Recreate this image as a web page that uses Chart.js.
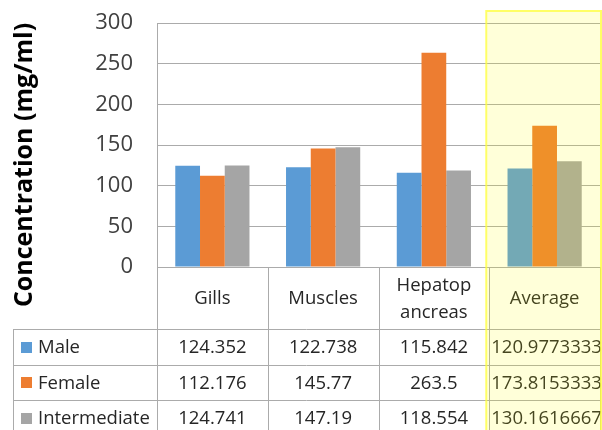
<!DOCTYPE html>
<html>
<head>
<meta charset="utf-8">
<script src="https://cdn.jsdelivr.net/npm/chart.js@4.4.1/dist/chart.umd.min.js"></script>
<style>
  html, body { margin: 0; padding: 0; background: #ffffff; }
  canvas { display: block; }
</style>
</head>
<body>
<canvas id="grafico" width="602" height="430"></canvas>
<script>
const categorias = ["Gills", "Muscles", "Hepatopancreas", "Average"];
const etiquetasTabla = [["Gills"], ["Muscles"], ["Hepatop", "ancreas"], ["Average"]];
const series = ["Male", "Female", "Intermediate"];
const male = [124.352, 122.738, 115.842, 120.9773333];
const female = [112.176, 145.77, 263.5, 173.8153333];
const intermediate = [124.741, 147.19, 118.554, 130.1616667];
const yTicks = [0, 50, 100, 150, 200, 250, 300];

const colores = ["#5B9BD5", "#ED7D31", "#A5A5A5"];
const valores = [male, female, intermediate];
const lineaGris = "#ABABAB";
const textoColor = "#262626";
const fuente = "'Open Sans', 'Noto Sans', sans-serif";

// Tabla de datos debajo del gráfico (estilo Excel)
const tablaDatos = {
  id: "tablaDatos",
  afterDraw(chart) {
    const { ctx, chartArea, scales } = chart;
    const x = scales.x;
    const n = categorias.length;
    const anchoCol = (chartArea.right - chartArea.left) / n;
    const top = chartArea.bottom;
    const altoCabecera = 62;
    const altoFila = 35.5;
    const izquierda = 13;
    const fondo = chart.height + 10;

    ctx.save();
    ctx.strokeStyle = lineaGris;
    ctx.lineWidth = 1;

    // líneas horizontales
    ctx.beginPath();
    for (let i = 0; i <= series.length; i++) {
      const y = Math.round(top + altoCabecera + i * altoFila) + 0.5;
      ctx.moveTo(izquierda, y);
      ctx.lineTo(chartArea.right, y);
    }
    // líneas verticales
    for (let i = 0; i <= n; i++) {
      const xx = Math.round(chartArea.left + i * anchoCol) + 0.5;
      ctx.moveTo(xx, top);
      ctx.lineTo(xx, fondo);
    }
    const xi = izquierda + 0.5;
    ctx.moveTo(xi, top + altoCabecera);
    ctx.lineTo(xi, fondo);
    ctx.stroke();

    // cabecera de categorías
    ctx.fillStyle = textoColor;
    ctx.font = "18.5px " + fuente;
    ctx.textAlign = "center";
    ctx.textBaseline = "middle";
    etiquetasTabla.forEach((lineas, i) => {
      const cx = x.getPixelForValue(i);
      const cy = top + altoCabecera / 2 + 1;
      const alto = 27;
      lineas.forEach((t, j) => {
        ctx.fillText(t, cx, cy + (j - (lineas.length - 1) / 2) * alto);
      });
    });

    // filas con clave de color
    series.forEach((nombre, s) => {
      const cy = top + altoCabecera + s * altoFila + altoFila / 2 + 1;
      ctx.fillStyle = colores[s];
      ctx.fillRect(21, Math.round(cy - 6), 11, 11);
      ctx.fillStyle = textoColor;
      ctx.textAlign = "left";
      ctx.fillText(nombre, 38, cy);
      valores[s].forEach((v, i) => {
        const texto = String(v);
        const ancho = ctx.measureText(texto).width;
        const cx = x.getPixelForValue(i);
        if (ancho > anchoCol - 4) {
          ctx.textAlign = "left";
          ctx.fillText(texto, chartArea.left + i * anchoCol + 2, cy);
        } else {
          ctx.textAlign = "center";
          ctx.fillText(texto, cx, cy);
        }
      });
    });

    // título del eje Y
    ctx.save();
    ctx.translate(25, 165);
    ctx.rotate(-Math.PI / 2);
    ctx.font = "bold 25px " + fuente;
    ctx.textAlign = "center";
    ctx.fillStyle = "#000000";
    ctx.fillText("Concentration (mg/ml)", 0, 0);
    ctx.restore();

    // resaltado amarillo de la columna Average
    const xa = chartArea.left + (n - 1) * anchoCol - 3;
    ctx.fillStyle = "rgba(255, 255, 0, 0.15)";
    ctx.fillRect(xa, 10, chart.width - xa, chart.height);
    ctx.strokeStyle = "rgba(255, 255, 60, 0.75)";
    ctx.lineWidth = 2;
    ctx.strokeRect(xa, 11, chart.width - xa - 1, chart.height + 10);
    ctx.restore();
  },
};

const fondoBlanco = {
  id: "fondoBlanco",
  beforeDraw(chart) {
    const ctx = chart.ctx;
    ctx.save();
    ctx.fillStyle = "#ffffff";
    ctx.fillRect(0, 0, chart.width, chart.height);
    ctx.restore();
  },
};

const ctx = document.getElementById("grafico").getContext("2d");
new Chart(ctx, {
  type: "bar",
  data: {
    labels: categorias,
    datasets: series.map((nombre, s) => ({
      label: nombre,
      data: valores[s],
      backgroundColor: colores[s],
      borderWidth: 0,
      categoryPercentage: 0.67,
      barPercentage: 1.0,
    })),
  },
  options: {
    responsive: false,
    animation: false,
    layout: {
      padding: { left: 0, right: 2, top: 23, bottom: 163 },
    },
    plugins: {
      legend: { display: false },
      tooltip: { enabled: false },
    },
    scales: {
      x: {
        afterFit(scale) {
          scale.height = 0;
          scale.paddingLeft = 0;
          scale.paddingRight = 0;
        },
        ticks: { display: false },
        grid: { display: false, drawTicks: false },
        border: { display: true, color: lineaGris },
      },
      y: {
        min: 0,
        max: 300,
        afterFit(scale) {
          scale.width = 157;
          scale.paddingTop = 0;
          scale.paddingBottom = 0;
        },
        afterBuildTicks(scale) {
          scale.ticks = yTicks.map((v) => ({ value: v }));
        },
        ticks: {
          padding: 24,
          color: "#404040",
          font: { family: fuente, size: 22 },
        },
        grid: { color: lineaGris, drawTicks: false },
        border: { display: true, color: lineaGris },
      },
    },
  },
  plugins: [fondoBlanco, tablaDatos],
});
</script>
</body>
</html>
